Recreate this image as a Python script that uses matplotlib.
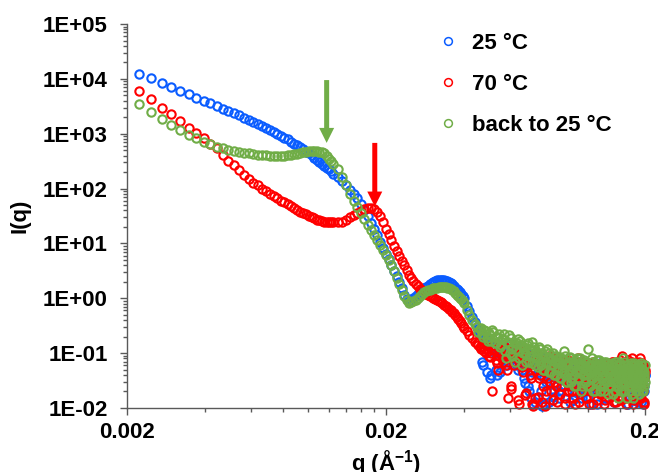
import matplotlib
matplotlib.use('Agg')
import matplotlib.pyplot as plt
from matplotlib.ticker import FixedLocator, NullFormatter

plt.rcParams['font.family'] = ['Liberation Sans', 'DejaVu Sans']
plt.rcParams['font.weight'] = 'bold'
plt.rcParams['mathtext.fontset'] = 'custom'
plt.rcParams['mathtext.rm'] = 'Liberation Sans:bold'
plt.rcParams['mathtext.bf'] = 'Liberation Sans:bold'

# q grid (A^-1): fine at low q, coarser at high q
q_low = [0.00223, 0.00248, 0.00272, 0.00297, 0.00321, 0.00346, 0.00370, 0.00395, 0.00419, 0.00444,
         0.00468, 0.00493, 0.00517, 0.00542, 0.00566, 0.00591, 0.00615, 0.00640, 0.00664, 0.00689,
         0.00713, 0.00738, 0.00762, 0.00787, 0.00811, 0.00836, 0.00860, 0.00885, 0.00909, 0.00934,
         0.00958, 0.00983, 0.01007, 0.01032, 0.01056, 0.01081, 0.01105, 0.01130, 0.01154, 0.01179,
         0.01203, 0.01228, 0.01252]
q_mid = [0.0130, 0.0135, 0.0140, 0.0145, 0.0150, 0.0155, 0.0160, 0.0165, 0.0170, 0.0175,
         0.0180, 0.0185, 0.0190, 0.0195, 0.0200, 0.0205, 0.0210, 0.0215, 0.0220, 0.0225,
         0.0230, 0.0235, 0.0240, 0.0245, 0.0250, 0.0255, 0.0260, 0.0265, 0.0270, 0.0275,
         0.0280, 0.0285, 0.0290, 0.0295, 0.0300, 0.0305, 0.0310, 0.0315, 0.0320, 0.0325,
         0.0330, 0.0335, 0.0340, 0.0345, 0.0350, 0.0355, 0.0360, 0.0365, 0.0370, 0.0375,
         0.0380, 0.0385, 0.0390, 0.0395, 0.0400]
q_high = [0.041, 0.042, 0.043, 0.044, 0.045, 0.046, 0.047, 0.048, 0.049, 0.050,
          0.051, 0.052, 0.053, 0.054, 0.055, 0.056, 0.057, 0.058, 0.059, 0.060,
          0.061, 0.062, 0.063, 0.064, 0.065, 0.066, 0.067, 0.068, 0.069, 0.070,
          0.071, 0.072, 0.073, 0.074, 0.075, 0.076, 0.077, 0.078, 0.079, 0.080,
          0.081, 0.082, 0.083, 0.084, 0.085, 0.086, 0.087, 0.088, 0.089, 0.090,
          0.091, 0.092, 0.093, 0.094, 0.095, 0.096, 0.097, 0.098, 0.099, 0.100,
          0.101, 0.102, 0.103, 0.104, 0.105, 0.106, 0.107, 0.108, 0.109, 0.110,
          0.111, 0.112, 0.113, 0.114, 0.115, 0.116, 0.117, 0.118, 0.119, 0.120,
          0.121, 0.122, 0.123, 0.124, 0.125, 0.126, 0.127, 0.128, 0.129, 0.130,
          0.131, 0.132, 0.133, 0.134, 0.135, 0.136, 0.137, 0.138, 0.139, 0.140,
          0.141, 0.142, 0.143, 0.144, 0.145, 0.146, 0.147, 0.148, 0.149, 0.150,
          0.151, 0.152, 0.153, 0.154, 0.155, 0.156, 0.157, 0.158, 0.159, 0.160,
          0.161, 0.162, 0.163, 0.164, 0.165, 0.166, 0.167, 0.168, 0.169, 0.170,
          0.171, 0.172, 0.173, 0.174, 0.175, 0.176, 0.177, 0.178, 0.179, 0.180,
          0.181, 0.182, 0.183, 0.184, 0.185, 0.186, 0.187, 0.188, 0.189, 0.190,
          0.191, 0.192, 0.193, 0.194, 0.195, 0.196, 0.197, 0.198, 0.199, 0.200]
# in-between points of the noisy tail
q_tail = [0.0455, 0.0465, 0.0475, 0.0485, 0.0495, 0.0505, 0.0515, 0.0525, 0.0535, 0.0545,
          0.0555, 0.0565, 0.0575, 0.0585, 0.0595, 0.0605, 0.0615, 0.0625, 0.0635, 0.0645,
          0.0655, 0.0665, 0.0675, 0.0685, 0.0695, 0.0705, 0.0715, 0.0725, 0.0735, 0.0745,
          0.0755, 0.0765, 0.0775, 0.0785, 0.0795, 0.0805, 0.0815, 0.0825, 0.0835, 0.0845,
          0.0855, 0.0865, 0.0875, 0.0885, 0.0895, 0.0905, 0.0915, 0.0925, 0.0935, 0.0945,
          0.0955, 0.0965, 0.0975, 0.0985, 0.0995, 0.1005, 0.1015, 0.1025, 0.1035, 0.1045,
          0.1055, 0.1065, 0.1075, 0.1085, 0.1095, 0.1105, 0.1115, 0.1125, 0.1135, 0.1145,
          0.1155, 0.1165, 0.1175, 0.1185, 0.1195, 0.1205, 0.1215, 0.1225, 0.1235, 0.1245,
          0.1255, 0.1265, 0.1275, 0.1285, 0.1295, 0.1305, 0.1315, 0.1325, 0.1335, 0.1345,
          0.1355, 0.1365, 0.1375, 0.1385, 0.1395, 0.1405, 0.1415, 0.1425, 0.1435, 0.1445,
          0.1455, 0.1465, 0.1475, 0.1485, 0.1495, 0.1505, 0.1515, 0.1525, 0.1535, 0.1545,
          0.1555, 0.1565, 0.1575, 0.1585, 0.1595, 0.1605, 0.1615, 0.1625, 0.1635, 0.1645,
          0.1655, 0.1665, 0.1675, 0.1685, 0.1695, 0.1705, 0.1715, 0.1725, 0.1735, 0.1745,
          0.1755, 0.1765, 0.1775, 0.1785, 0.1795, 0.1805, 0.1815, 0.1825, 0.1835, 0.1845,
          0.1855, 0.1865, 0.1875, 0.1885, 0.1895, 0.1905, 0.1915, 0.1925, 0.1935, 0.1945,
          0.1955, 0.1965, 0.1975, 0.1985, 0.1995]

# 25 C
I25_low = [12300, 10200, 8400, 7100, 6000, 5300, 4570, 3980, 3560, 3200,
           2850, 2600, 2390, 2150, 1940, 1780, 1640, 1500, 1380, 1270,
           1170, 1070, 990, 910, 836, 785, 721, 663, 610, 573,
           516, 474, 436, 401, 361, 332, 305, 281, 258, 237,
           223, 209, 188]
I25_mid = [163, 137, 116, 96, 80, 66, 52, 41, 32, 24,
           18.3, 14, 10.6, 8.3, 6.4, 5.1, 4.0, 3.2, 2.5, 1.94,
           1.51, 1.17, 0.97, 0.89, 0.93, 1.0, 1.1, 1.2, 1.3, 1.4,
           1.54, 1.6, 1.7, 1.8, 1.9, 1.98, 2.07, 2.16, 2.16, 2.16,
           2.16, 2.16, 2.1, 2.07, 1.98, 1.9, 1.8, 1.68, 1.57, 1.48,
           1.39, 1.3, 1.2, 1.1, 1.0]
I25_high = [0.72, 0.58, 0.46, 0.37, 0.30, 0.24, 0.07, 0.20, 0.045, 0.16,
            0.04, 0.13, 0.05, 0.11, 0.045, 0.14, 0.09, 0.12, 0.07, 0.10,
            0.15, 0.08, 0.11, 0.06, 0.09, 0.13, 0.05, 0.08, 0.028, 0.10,
            0.02, 0.07, 0.045, 0.012, 0.09, 0.06, 0.016, 0.075, 0.04, 0.011,
            0.065, 0.085, 0.03, 0.05, 0.013, 0.07, 0.04, 0.055, 0.02, 0.08,
            0.035, 0.05, 0.015, 0.065, 0.04, 0.025, 0.055, 0.035, 0.07, 0.02,
            0.045, 0.06, 0.03, 0.05, 0.014, 0.04, 0.065, 0.025, 0.045, 0.035,
            0.055, 0.018, 0.04, 0.07, 0.03, 0.05, 0.02, 0.045, 0.035, 0.06,
            0.015, 0.04, 0.03, 0.055, 0.025, 0.045, 0.065, 0.02, 0.035, 0.05,
            0.012, 0.04, 0.06, 0.03, 0.045, 0.02, 0.05, 0.035, 0.065, 0.025,
            0.04, 0.015, 0.045, 0.03, 0.055, 0.02, 0.04, 0.06, 0.025, 0.035,
            0.05, 0.013, 0.04, 0.03, 0.055, 0.02, 0.045, 0.035, 0.06, 0.025,
            0.04, 0.015, 0.05, 0.03, 0.045, 0.02, 0.055, 0.035, 0.04, 0.012,
            0.05, 0.03, 0.045, 0.025, 0.06, 0.02, 0.04, 0.035, 0.05, 0.015,
            0.045, 0.03, 0.055, 0.02, 0.04, 0.035, 0.05, 0.013, 0.045, 0.03,
            0.055, 0.02, 0.04, 0.03, 0.05, 0.012, 0.045, 0.035, 0.025, 0.04]
I25_tail = [0.27, 0.22, 0.06, 0.18, 0.14, 0.035, 0.12, 0.10, 0.04, 0.13,
            0.11, 0.08, 0.13, 0.06, 0.10, 0.12, 0.07, 0.09, 0.11, 0.05,
            0.09, 0.12, 0.06, 0.035, 0.10, 0.025, 0.07, 0.015, 0.05, 0.08,
            0.013, 0.06, 0.045, 0.085, 0.02, 0.07, 0.035, 0.012, 0.055, 0.075,
            0.03, 0.05, 0.065, 0.016, 0.045, 0.06, 0.035, 0.075, 0.02, 0.05,
            0.04, 0.06, 0.025, 0.045, 0.07, 0.03, 0.05, 0.013, 0.04, 0.055,
            0.03, 0.06, 0.02, 0.045, 0.035, 0.065, 0.025, 0.05, 0.04, 0.015,
            0.055, 0.035, 0.045, 0.02, 0.06, 0.03, 0.05, 0.04, 0.012, 0.045,
            0.035, 0.06, 0.025, 0.05, 0.04, 0.02, 0.055, 0.03, 0.045, 0.065,
            0.02, 0.04, 0.05, 0.03, 0.06, 0.015, 0.045, 0.035, 0.055, 0.025,
            0.04, 0.05, 0.02, 0.06, 0.035, 0.045, 0.013, 0.05, 0.03, 0.04,
            0.055, 0.02, 0.045, 0.035, 0.06, 0.025, 0.04, 0.05, 0.015, 0.045,
            0.03, 0.055, 0.02, 0.04, 0.05, 0.035, 0.06, 0.012, 0.045, 0.03,
            0.05, 0.025, 0.04, 0.06, 0.02, 0.045, 0.035, 0.055, 0.014, 0.04,
            0.03, 0.05, 0.045, 0.02, 0.06, 0.035, 0.04, 0.013, 0.05, 0.025,
            0.045, 0.035, 0.055, 0.02, 0.04]

# 70 C
I70_low = [6010, 4300, 2940, 2290, 1670, 1270, 1010, 819, 663, 538,
           401, 318, 264, 214, 177, 150, 129, 114, 100, 90,
           80, 72, 66, 60, 56, 52, 48, 44, 41, 38,
           36, 34, 32, 30, 28.5, 27.3, 26.4, 25.6, 25.1, 24.6,
           24.3, 24.1, 24.1]
I70_mid = [24.3, 24.8, 26.8, 29.7, 33, 35.9, 39, 41.9, 43.7, 44.3,
           41.6, 37.4, 31.6, 24.6, 18.3, 14.9, 11.6, 9.0, 7.3, 5.9,
           4.8, 4.0, 3.3, 2.7, 2.34, 2.07, 1.82, 1.64, 1.48, 1.39,
           1.30, 1.22, 1.17, 1.12, 1.08, 1.03, 0.99, 0.95, 0.91, 0.86,
           0.82, 0.77, 0.72, 0.69, 0.65, 0.61, 0.57, 0.54, 0.50, 0.46,
           0.42, 0.39, 0.35, 0.31, 0.29]
I70_high = [0.25, 0.21, 0.19, 0.16, 0.15, 0.13, 0.15, 0.11, 0.12, 0.09,
            0.10, 0.14, 0.075, 0.05, 0.11, 0.08, 0.12, 0.06, 0.015, 0.09,
            0.025, 0.13, 0.07, 0.10, 0.012, 0.08, 0.055, 0.11, 0.017, 0.065,
            0.09, 0.04, 0.07, 0.011, 0.015, 0.06, 0.085, 0.035, 0.05, 0.013,
            0.075, 0.045, 0.02, 0.06, 0.09, 0.03, 0.05, 0.014, 0.07, 0.04,
            0.025, 0.06, 0.08, 0.018, 0.045, 0.035, 0.065, 0.012, 0.05, 0.03,
            0.07, 0.02, 0.045, 0.055, 0.015, 0.035, 0.06, 0.025, 0.045, 0.08,
            0.013, 0.04, 0.03, 0.06, 0.02, 0.05, 0.035, 0.015, 0.065, 0.03,
            0.045, 0.012, 0.055, 0.025, 0.04, 0.07, 0.02, 0.035, 0.05, 0.014,
            0.04, 0.06, 0.025, 0.045, 0.018, 0.035, 0.055, 0.03, 0.012, 0.05,
            0.02, 0.04, 0.065, 0.03, 0.015, 0.045, 0.035, 0.055, 0.02, 0.04,
            0.07, 0.025, 0.045, 0.013, 0.035, 0.05, 0.02, 0.04, 0.06, 0.03,
            0.014, 0.045, 0.09, 0.035, 0.02, 0.05, 0.03, 0.06, 0.015, 0.04,
            0.025, 0.075, 0.035, 0.05, 0.02, 0.04, 0.03, 0.08, 0.045, 0.012,
            0.035, 0.055, 0.025, 0.04, 0.06, 0.02, 0.045, 0.03, 0.07, 0.015,
            0.04, 0.025, 0.05, 0.035, 0.065, 0.02, 0.045, 0.012, 0.035, 0.05]
I70_tail = [0.14, 0.12, 0.13, 0.10, 0.11, 0.085, 0.02, 0.12, 0.065, 0.09,
            0.10, 0.07, 0.13, 0.05, 0.08, 0.022, 0.11, 0.06, 0.09, 0.014,
            0.07, 0.10, 0.045, 0.08, 0.019, 0.06, 0.09, 0.035, 0.012, 0.07,
            0.05, 0.08, 0.016, 0.04, 0.065, 0.025, 0.075, 0.011, 0.05, 0.035,
            0.065, 0.02, 0.045, 0.08, 0.03, 0.055, 0.013, 0.04, 0.07, 0.025,
            0.05, 0.035, 0.06, 0.015, 0.045, 0.075, 0.025, 0.04, 0.055, 0.02,
            0.035, 0.065, 0.012, 0.05, 0.03, 0.045, 0.07, 0.02, 0.04, 0.055,
            0.025, 0.045, 0.06, 0.015, 0.035, 0.05, 0.03, 0.065, 0.02, 0.04,
            0.055, 0.012, 0.045, 0.03, 0.06, 0.025, 0.04, 0.05, 0.018, 0.035,
            0.065, 0.02, 0.045, 0.03, 0.055, 0.014, 0.04, 0.06, 0.025, 0.035,
            0.05, 0.02, 0.045, 0.07, 0.03, 0.04, 0.013, 0.055, 0.035, 0.025,
            0.045, 0.06, 0.02, 0.04, 0.03, 0.075, 0.015, 0.05, 0.035, 0.025,
            0.06, 0.03, 0.045, 0.012, 0.05, 0.035, 0.065, 0.02, 0.04, 0.03,
            0.055, 0.02, 0.04, 0.07, 0.03, 0.045, 0.014, 0.05, 0.035, 0.025,
            0.06, 0.04, 0.02, 0.05, 0.03, 0.08, 0.045, 0.015, 0.035, 0.055,
            0.025, 0.06, 0.04, 0.013, 0.045]

# back to 25 C
Iback_low = [3480, 2490, 1850, 1440, 1170, 948, 819, 721, 636, 580,
             538, 505, 480, 464, 445, 436, 427, 415, 410, 401,
             397, 393, 393, 393, 397, 401, 410, 422, 432, 445,
             460, 474, 484, 490, 494, 494, 474, 455, 436, 393,
             353, 318, 281]
Iback_mid = [228, 163, 116, 80, 59, 46, 36, 28, 22, 17.6,
             14.3, 11.6, 9.4, 7.6, 6.2, 5.0, 4.0, 3.1, 2.3, 1.8,
             1.4, 1.1, 0.93, 0.82, 0.84, 0.89, 0.95, 1.0, 1.1, 1.2,
             1.28, 1.33, 1.39, 1.42, 1.48, 1.51, 1.54, 1.57, 1.61, 1.61,
             1.61, 1.61, 1.61, 1.57, 1.54, 1.48, 1.42, 1.33, 1.25, 1.17,
             1.1, 1.03, 0.97, 0.89, 0.82]
Iback_high = [0.60, 0.50, 0.40, 0.34, 0.30, 0.27, 0.22, 0.26, 0.19, 0.23,
              0.17, 0.24, 0.15, 0.20, 0.13, 0.18, 0.22, 0.08, 0.16, 0.10,
              0.19, 0.13, 0.07, 0.15, 0.11, 0.17, 0.06, 0.13, 0.10, 0.14,
              0.07, 0.12, 0.16, 0.09, 0.06, 0.11, 0.08, 0.13, 0.06, 0.10,
              0.05, 0.09, 0.07, 0.12, 0.045, 0.08, 0.06, 0.10, 0.04, 0.07,
              0.09, 0.05, 0.065, 0.035, 0.08, 0.05, 0.11, 0.04, 0.06, 0.03,
              0.07, 0.045, 0.085, 0.03, 0.055, 0.04, 0.075, 0.025, 0.05, 0.065,
              0.035, 0.08, 0.045, 0.025, 0.06, 0.04, 0.07, 0.03, 0.05, 0.12,
              0.04, 0.06, 0.025, 0.045, 0.07, 0.035, 0.05, 0.02, 0.06, 0.04,
              0.075, 0.03, 0.05, 0.02, 0.065, 0.035, 0.045, 0.025, 0.055, 0.04,
              0.07, 0.03, 0.05, 0.018, 0.06, 0.035, 0.045, 0.025, 0.065, 0.04,
              0.03, 0.055, 0.02, 0.045, 0.07, 0.03, 0.05, 0.015, 0.04, 0.06,
              0.025, 0.045, 0.035, 0.08, 0.02, 0.05, 0.03, 0.06, 0.04, 0.015,
              0.045, 0.03, 0.055, 0.02, 0.04, 0.065, 0.025, 0.05, 0.035, 0.015,
              0.045, 0.03, 0.06, 0.02, 0.04, 0.05, 0.025, 0.035, 0.055, 0.018,
              0.04, 0.03, 0.06, 0.02, 0.045, 0.035, 0.05, 0.025, 0.04, 0.03]
Iback_tail = [0.24, 0.29, 0.20, 0.25, 0.17, 0.21, 0.26, 0.15, 0.19, 0.22,
              0.14, 0.18, 0.11, 0.16, 0.21, 0.12, 0.09, 0.15, 0.12, 0.18,
              0.08, 0.14, 0.10, 0.12, 0.07, 0.15, 0.09, 0.11, 0.065, 0.13,
              0.08, 0.10, 0.055, 0.12, 0.07, 0.09, 0.05, 0.11, 0.065, 0.08,
              0.10, 0.045, 0.075, 0.06, 0.09, 0.04, 0.07, 0.055, 0.085, 0.035,
              0.06, 0.075, 0.045, 0.09, 0.03, 0.065, 0.05, 0.08, 0.035, 0.055,
              0.07, 0.025, 0.06, 0.045, 0.08, 0.035, 0.05, 0.065, 0.02, 0.055,
              0.04, 0.075, 0.03, 0.05, 0.065, 0.025, 0.045, 0.06, 0.035, 0.08,
              0.02, 0.05, 0.04, 0.065, 0.03, 0.055, 0.045, 0.075, 0.025, 0.05,
              0.06, 0.035, 0.045, 0.02, 0.07, 0.04, 0.055, 0.03, 0.05, 0.065,
              0.025, 0.045, 0.06, 0.035, 0.05, 0.018, 0.055, 0.04, 0.07, 0.03,
              0.045, 0.06, 0.025, 0.05, 0.035, 0.065, 0.02, 0.04, 0.055, 0.03,
              0.07, 0.04, 0.02, 0.05, 0.035, 0.06, 0.025, 0.045, 0.055, 0.03,
              0.04, 0.06, 0.018, 0.05, 0.03, 0.045, 0.065, 0.025, 0.04, 0.055,
              0.03, 0.045, 0.02, 0.06, 0.035, 0.05, 0.025, 0.04, 0.065, 0.03,
              0.05, 0.02, 0.045, 0.035, 0.06]

series_labels = ['25 °C', '70 °C', 'back to 25 °C']
series_colors = ['#0A5CFF', '#FF0000', '#70AD47']

# arrows: (q, I at tip, I at tail)
arrow_back = (0.0118, 680, 9500)
arrow_70 = (0.0181, 47, 680)

x_ticks = [0.002, 0.02, 0.2]
x_ticklabels = ['0.002', '0.02', '0.2']
y_ticks = [1e-2, 1e-1, 1e0, 1e1, 1e2, 1e3, 1e4, 1e5]
y_ticklabels = ['1E-02', '1E-01', '1E+00', '1E+01', '1E+02', '1E+03', '1E+04', '1E+05']

q = q_low + q_mid + q_high + q_tail
curves = [I25_low + I25_mid + I25_high + I25_tail,
          I70_low + I70_mid + I70_high + I70_tail,
          Iback_low + Iback_mid + Iback_high + Iback_tail]

fig = plt.figure(figsize=(6.58, 4.72), dpi=100)
ax = fig.add_axes([127 / 658, 64 / 472, 518 / 658, 384 / 472])

for I, lab, col in zip(curves, series_labels, series_colors):
    ax.plot(q, I, linestyle='none', marker='o', markersize=6.0, markerfacecolor='none',
            markeredgecolor=col, markeredgewidth=1.5, label=lab, clip_on=False)

ax.set_xscale('log')
ax.set_yscale('log')
ax.set_xlim(0.002, 0.2)
ax.set_ylim(1e-2, 1e5)

ax.xaxis.set_major_locator(FixedLocator(x_ticks))
ax.set_xticklabels(x_ticklabels)
minor_x = [0.002 * k * d for d in (1, 10) for k in range(2, 10)]
ax.xaxis.set_minor_locator(FixedLocator(minor_x))
ax.xaxis.set_minor_formatter(NullFormatter())

ax.yaxis.set_major_locator(FixedLocator(y_ticks))
ax.set_yticklabels(y_ticklabels)
minor_y = [k * 10.0 ** e for e in range(-2, 5) for k in range(2, 10)]
ax.yaxis.set_minor_locator(FixedLocator(minor_y))
ax.yaxis.set_minor_formatter(NullFormatter())

axis_grey = '#595959'
for side in ['top', 'right']:
    ax.spines[side].set_visible(False)
for side in ['left', 'bottom']:
    ax.spines[side].set_color(axis_grey)
    ax.spines[side].set_linewidth(1.0)

ax.tick_params(which='major', direction='out', length=5, width=1.0, color=axis_grey,
               labelsize=16, labelcolor='black')
ax.tick_params(which='minor', direction='out', length=3, width=1.0, color=axis_grey)
ax.tick_params(axis='y', which='major', pad=9)
ax.tick_params(axis='x', which='major', pad=5)

ax.set_xlabel(r'q (Å$^{-1}$)', fontsize=16, fontweight='bold', labelpad=4)
ax.set_ylabel('I(q)', fontsize=16, fontweight='bold', labelpad=9)

leg = ax.legend(loc='upper left', bbox_to_anchor=(0.598, 0.977), frameon=False, fontsize=16,
                handlelength=1.0, handletextpad=0.6, labelspacing=0.9,
                borderpad=0, borderaxespad=0)
for h in leg.legend_handles:
    h.set_markeredgewidth(1.1)
    h.set_markersize(5.6)

for (qa, tip, tail), col in zip([arrow_back, arrow_70], [series_colors[2], series_colors[1]]):
    ax.annotate('', xy=(qa, tip), xytext=(qa, tail),
                arrowprops=dict(facecolor=col, edgecolor='none', width=3.6,
                                headwidth=10.8, headlength=10.8, shrink=0))

fig.savefig('out.png', dpi=100)
